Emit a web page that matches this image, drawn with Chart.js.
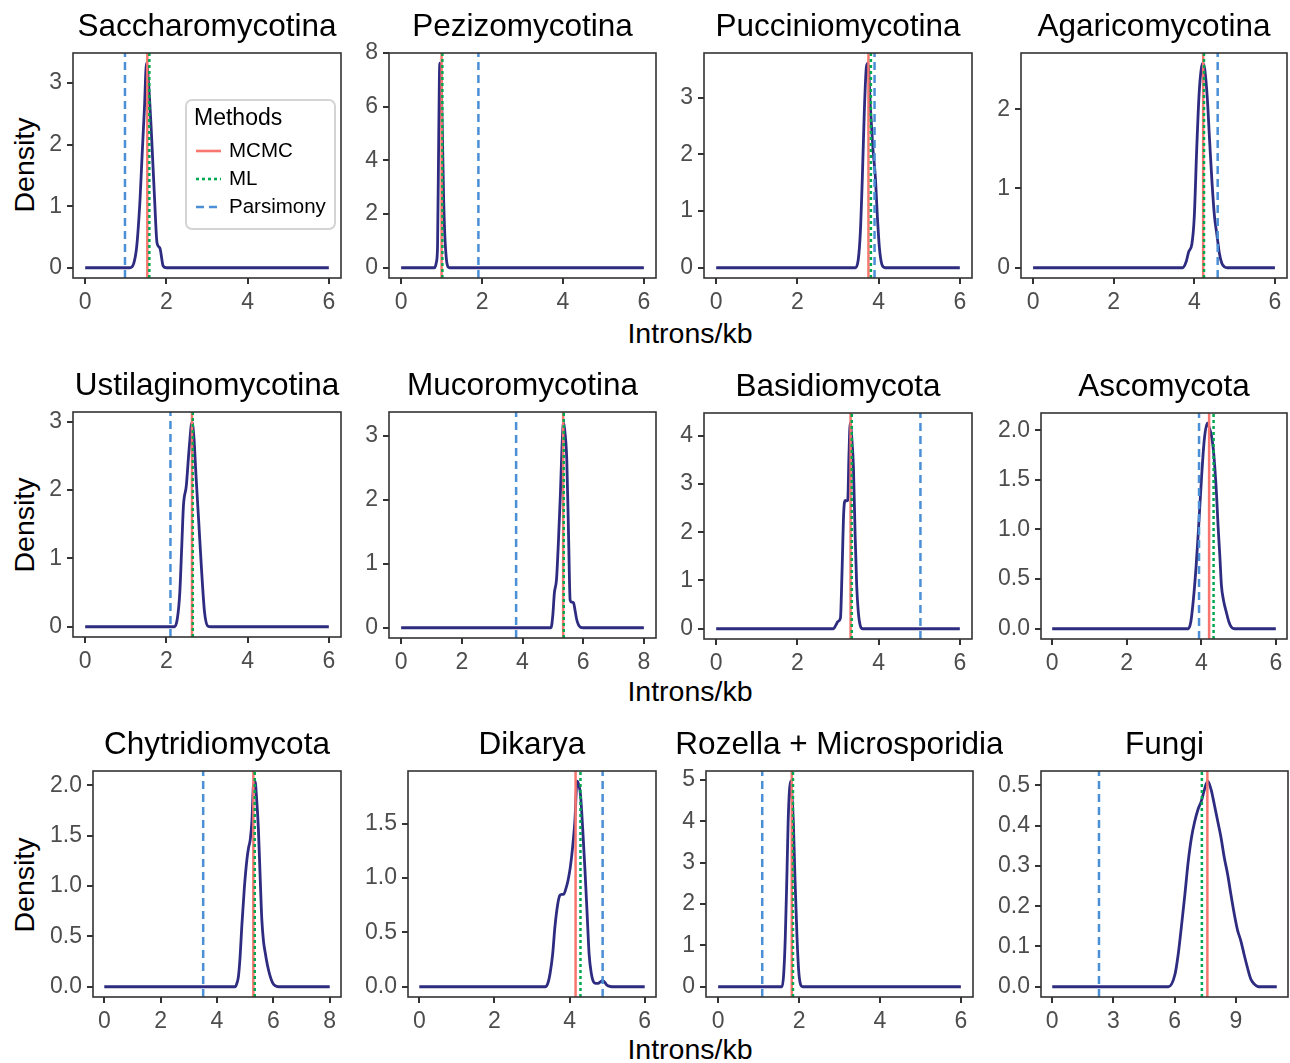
<!DOCTYPE html>
<html>
<head>
<meta charset="utf-8">
<script src="https://cdn.jsdelivr.net/npm/chart.js@4.4.1/dist/chart.umd.min.js"></script>
<style>
  body { margin: 0; background: #fff; width: 1290px; height: 1063px; position: relative; overflow: hidden;
         font-family: "Liberation Sans", Arial, Helvetica, sans-serif; }
  canvas { position: absolute; }
  .axtitle { position: absolute; font-size: 28.5px; color: #000; white-space: nowrap; line-height: 1; }
</style>
</head>
<body>
<div class="axtitle" style="left:24px;top:165px;transform:translate(-50%,-50%) rotate(-90deg)">Density</div>
<div class="axtitle" style="left:24px;top:525px;transform:translate(-50%,-50%) rotate(-90deg)">Density</div>
<div class="axtitle" style="left:24px;top:885px;transform:translate(-50%,-50%) rotate(-90deg)">Density</div>
<div class="axtitle" style="left:690px;top:333px;transform:translate(-50%,-50%)">Introns/kb</div>
<div class="axtitle" style="left:690px;top:691px;transform:translate(-50%,-50%)">Introns/kb</div>
<div class="axtitle" style="left:690px;top:1049px;transform:translate(-50%,-50%)">Introns/kb</div>

<script>
// panel titles
const titles = ['Saccharomycotina', 'Pezizomycotina', 'Pucciniomycotina', 'Agaricomycotina',
  'Ustilaginomycotina', 'Mucoromycotina', 'Basidiomycota', 'Ascomycota',
  'Chytridiomycota', 'Dikarya', 'Rozella + Microsporidia', 'Fungi'];

const methods = ['MCMC', 'ML', 'Parsimony'];

// point estimates per method (introns/kb)
const mcmc      = [1.53, 1.00, 3.75, 4.22, 2.63, 5.34, 3.31, 4.21, 5.29, 4.16, 1.82, 7.60];
const ml        = [1.58, 1.02, 3.81, 4.24, 2.65, 5.36, 3.34, 4.33, 5.34, 4.29, 1.85, 7.33];
const parsimony = [0.98, 1.91, 3.90, 4.58, 2.10, 3.79, 5.03, 3.94, 3.51, 4.88, 1.09, 2.29];

// density curves
const sacchX = [0, 1.10, 1.20, 1.27, 1.35, 1.40, 1.46, 1.51, 1.57, 1.63, 1.71, 1.77, 1.84, 1.92, 2.0, 6];
const sacchY = [0, 0, 0.08, 0.35, 1.1, 1.8, 2.6, 3.32, 2.9, 2.2, 1.1, 0.4, 0.32, 0.03, 0, 0];

const pezizX = [0, 0.82, 0.87, 0.90, 0.93, 0.955, 0.98, 1.02, 1.05, 1.08, 1.12, 1.16, 1.20, 6];
const pezizY = [0, 0, 0.2, 0.8, 5.0, 7.62, 7.3, 5.0, 2.6, 1.2, 0.3, 0.03, 0, 0];

const puccX = [0, 3.43, 3.50, 3.55, 3.60, 3.65, 3.70, 3.74, 3.80, 3.86, 3.92, 3.97, 4.02, 4.08, 4.16, 6];
const puccY = [0, 0, 0.15, 0.62, 1.6, 2.8, 3.55, 3.61, 2.8, 2.1, 1.6, 0.9, 0.35, 0.06, 0, 0];

const agarX = [0, 3.71, 3.80, 3.86, 3.94, 4.00, 4.06, 4.12, 4.17, 4.21, 4.26, 4.32, 4.38, 4.44, 4.50, 4.56, 4.62, 4.68, 4.75, 4.82, 6];
const agarY = [0, 0, 0.08, 0.2, 0.3, 0.65, 1.5, 2.2, 2.5, 2.58, 2.5, 2.16, 1.6, 1.07, 0.65, 0.42, 0.19, 0.06, 0.01, 0, 0];

const ustilX = [0, 2.20, 2.27, 2.33, 2.38, 2.42, 2.49, 2.56, 2.63, 2.68, 2.73, 2.80, 2.86, 2.94, 3.02, 3.10, 6];
const ustilY = [0, 0, 0.12, 0.5, 1.2, 1.77, 2.06, 2.6, 2.99, 2.75, 2.2, 1.5, 0.89, 0.21, 0.01, 0, 0];

const mucorX = [0, 4.94, 5.00, 5.05, 5.12, 5.18, 5.25, 5.30, 5.35, 5.40, 5.46, 5.52, 5.57, 5.62, 5.68, 5.74, 5.79, 5.85, 5.92, 6.0, 8];
const mucorY = [0, 0, 0.2, 0.54, 0.75, 1.3, 2.1, 2.8, 3.21, 3.05, 2.62, 1.4, 0.43, 0.4, 0.39, 0.25, 0.12, 0.04, 0.005, 0, 0];

const basidX = [0, 2.89, 2.95, 3.00, 3.06, 3.10, 3.14, 3.18, 3.21, 3.24, 3.27, 3.30, 3.34, 3.38, 3.42, 3.46, 3.50, 3.55, 3.61, 6];
const basidY = [0, 0, 0.08, 0.15, 0.22, 1.2, 2.4, 2.66, 2.65, 2.66, 3.6, 4.26, 3.95, 3.35, 2.0, 0.9, 0.35, 0.06, 0, 0];

const ascoX = [0, 3.65, 3.72, 3.79, 3.86, 3.92, 4.01, 4.08, 4.16, 4.22, 4.27, 4.32, 4.36, 4.41, 4.45, 4.50, 4.54, 4.60, 4.67, 4.74, 4.80, 4.89, 6];
const ascoY = [0, 0, 0.07, 0.3, 0.62, 0.97, 1.54, 1.9, 2.07, 2.02, 1.95, 1.82, 1.64, 1.35, 1.04, 0.72, 0.44, 0.28, 0.17, 0.07, 0.02, 0, 0];

const chytX = [0, 4.65, 4.70, 4.76, 4.82, 4.88, 4.97, 5.06, 5.12, 5.18, 5.24, 5.29, 5.35, 5.41, 5.47, 5.53, 5.59, 5.65, 5.71, 5.80, 5.88, 5.97, 6.06, 6.18, 8];
const chytY = [0, 0, 0.03, 0.1, 0.3, 0.6, 0.98, 1.26, 1.38, 1.46, 1.65, 1.99, 2.04, 1.85, 1.56, 1.1, 0.67, 0.45, 0.34, 0.2, 0.11, 0.04, 0.01, 0, 0];

const dikX = [0, 3.35, 3.42, 3.48, 3.55, 3.61, 3.68, 3.74, 3.79, 3.84, 3.90, 3.96, 4.02, 4.08, 4.14, 4.20, 4.25, 4.29, 4.35, 4.41, 4.47, 4.52, 4.58, 4.63, 4.70, 4.76, 4.82, 4.88, 4.94, 4.99, 5.05, 5.12, 6];
const dikY = [0, 0, 0.03, 0.12, 0.3, 0.55, 0.75, 0.84, 0.85, 0.85, 0.9, 0.98, 1.1, 1.28, 1.52, 1.89, 1.85, 1.77, 1.45, 1.07, 0.65, 0.3, 0.12, 0.05, 0.03, 0.03, 0.045, 0.055, 0.04, 0.015, 0.005, 0, 0];

const rozX = [0, 1.58, 1.62, 1.66, 1.70, 1.73, 1.76, 1.79, 1.82, 1.86, 1.90, 1.95, 1.99, 2.03, 2.09, 6];
const rozY = [0, 0, 0.3, 1.19, 2.7, 3.96, 4.7, 4.97, 4.7, 3.96, 2.6, 1.19, 0.4, 0.08, 0, 0];

const fungiX = [0, 5.69, 6.01, 6.17, 6.33, 6.50, 6.66, 6.82, 6.98, 7.14, 7.30, 7.46, 7.62, 7.78, 7.95, 8.11, 8.27, 8.43, 8.59, 8.75, 8.92, 9.08, 9.24, 9.40, 9.56, 9.72, 9.89, 10.05, 10.2, 11];
const fungiY = [0, 0, 0.03, 0.08, 0.15, 0.23, 0.31, 0.37, 0.41, 0.44, 0.46, 0.49, 0.51, 0.49, 0.45, 0.41, 0.37, 0.32, 0.28, 0.23, 0.18, 0.14, 0.114, 0.08, 0.048, 0.02, 0.007, 0.001, 0, 0];

const curveX = [sacchX, pezizX, puccX, agarX, ustilX, mucorX, basidX, ascoX, chytX, dikX, rozX, fungiX];
const curveY = [sacchY, pezizY, puccY, agarY, ustilY, mucorY, basidY, ascoY, chytY, dikY, rozY, fungiY];

// tick labels
const xTicks = [[0,2,4,6],[0,2,4,6],[0,2,4,6],[0,2,4,6],
  [0,2,4,6],[0,2,4,6,8],[0,2,4,6],[0,2,4,6],
  [0,2,4,6,8],[0,2,4,6],[0,2,4,6],[0,3,6,9]];
const yTicks = [[0,1,2,3],[0,2,4,6,8],[0,1,2,3],[0,1,2],
  [0,1,2,3],[0,1,2,3],[0,1,2,3,4],[0,0.5,1,1.5,2],
  [0,0.5,1,1.5,2],[0,0.5,1,1.5],[0,1,2,3,4,5],[0,0.1,0.2,0.3,0.4,0.5]];
const yDecimals = [0,0,0,0,0,0,0,1,1,1,0,1];

// ---- layout (page px): plot frame left, top, right, bottom ----
const frames = [
  [73, 53, 341, 278], [389, 53, 656, 278], [704, 53, 972, 278], [1021, 53, 1287, 278],
  [73, 412, 341, 637], [389, 412, 656, 638], [704, 413, 972, 639], [1041, 413, 1287, 639],
  [93, 771, 341, 997], [408, 771, 656, 997], [706, 771, 973, 997], [1041, 771, 1288, 997]
];
const PAD_L = 70, PAD_T = 60, PAD_R = 30, PAD_B = 45;

const FONT = '"Liberation Sans", Arial, Helvetica, sans-serif';
const curveColor = '#2E2C80';
const methodStyle = [
  { color: '#F8766D', dash: [] },
  { color: '#00A94F', dash: [3, 3] },
  { color: '#4B8FD6', dash: [8, 5] }
];

Chart.defaults.font.family = FONT;

const framePlugin = {
  id: 'panelFrame',
  afterDraw(chart, args, opts) {
    const ctx = chart.ctx, a = chart.chartArea;
    ctx.save();
    ctx.strokeStyle = '#333333';
    ctx.lineWidth = 1.6;
    ctx.strokeRect(a.left, a.top, a.right - a.left, a.bottom - a.top);
    ctx.fillStyle = '#000';
    ctx.font = '31.5px ' + FONT;
    ctx.textAlign = 'center';
    ctx.textBaseline = 'alphabetic';
    ctx.fillText(opts.title, (a.left + a.right) / 2, a.top - 17);
    ctx.restore();
  }
};

const legendPlugin = {
  id: 'methodsLegend',
  afterDraw(chart, args, opts) {
    if (!opts.show) return;
    const ctx = chart.ctx, a = chart.chartArea;
    const x0 = a.left + 113, y0 = a.top + 47, w = 149, h = 129, r = 6;
    ctx.save();
    ctx.beginPath();
    ctx.moveTo(x0 + r, y0);
    ctx.arcTo(x0 + w, y0, x0 + w, y0 + h, r);
    ctx.arcTo(x0 + w, y0 + h, x0, y0 + h, r);
    ctx.arcTo(x0, y0 + h, x0, y0, r);
    ctx.arcTo(x0, y0, x0 + w, y0, r);
    ctx.closePath();
    ctx.fillStyle = '#fff';
    ctx.fill();
    ctx.strokeStyle = '#D4D4D4';
    ctx.lineWidth = 2;
    ctx.stroke();

    ctx.fillStyle = '#000';
    ctx.textAlign = 'left';
    ctx.textBaseline = 'middle';
    ctx.font = '23px ' + FONT;
    ctx.fillText('Methods', x0 + 8, y0 + 19);
    ctx.font = '20.5px ' + FONT;
    methods.forEach((name, i) => {
      const yy = y0 + 51 + i * 28;
      ctx.beginPath();
      ctx.setLineDash(methodStyle[i].dash);
      ctx.strokeStyle = methodStyle[i].color;
      ctx.lineWidth = 2.6;
      ctx.moveTo(x0 + 10, yy);
      ctx.lineTo(x0 + 35, yy);
      ctx.stroke();
      ctx.setLineDash([]);
      ctx.fillText(name, x0 + 43, yy);
    });
    ctx.restore();
  }
};

titles.forEach((title, i) => {
  const [L, T, R, B] = frames[i];
  const cv = document.createElement('canvas');
  const w = (R - L) + PAD_L + PAD_R, h = (B - T) + PAD_T + PAD_B;
  cv.width = w; cv.height = h;
  cv.style.left = (L - PAD_L) + 'px';
  cv.style.top = (T - PAD_T) + 'px';
  cv.style.width = w + 'px';
  cv.style.height = h + 'px';
  document.body.appendChild(cv);

  const xs = curveX[i], ys = curveY[i];
  const xMax = xs[xs.length - 1];
  const peak = Math.max(...ys);
  const yLo = -0.05 * peak, yHi = 1.05 * peak;

  const vals = [mcmc[i], ml[i], parsimony[i]];
  const vlineSets = vals.map((v, k) => ({
    data: [{ x: v, y: yLo }, { x: v, y: yHi }],
    borderColor: methodStyle[k].color,
    borderDash: methodStyle[k].dash,
    borderWidth: 2.5,
    pointRadius: 0,
    fill: false
  }));
  // draw order: later in list = underneath; put ML dotted above MCMC solid
  const datasets = [vlineSets[1], vlineSets[0], vlineSets[2], {
    data: xs.map((x, k) => ({ x: x, y: ys[k] })),
    borderColor: curveColor,
    borderWidth: 2.8,
    pointRadius: 0,
    cubicInterpolationMode: 'monotone',
    fill: false
  }];

  new Chart(cv, {
    type: 'line',
    data: { datasets: datasets },
    options: {
      responsive: false,
      animation: false,
      events: [],
      layout: { padding: { left: 0, top: PAD_T, right: PAD_R, bottom: 0 } },
      plugins: {
        legend: { display: false },
        tooltip: { enabled: false },
        panelFrame: { title: title },
        methodsLegend: { show: i === 0 }
      },
      scales: {
        x: {
          type: 'linear',
          min: -0.05 * xMax,
          max: 1.05 * xMax,
          afterBuildTicks: (s) => { s.ticks = xTicks[i].map(v => ({ value: v })); },
          afterFit: (s) => { s.height = PAD_B; },
          ticks: { color: '#4D4D4D', font: { size: 23 }, padding: 5, maxRotation: 0,
                   callback: (v) => String(v) },
          grid: { drawOnChartArea: false, drawTicks: true, tickLength: 6, color: '#333333', lineWidth: 2 },
          border: { display: false }
        },
        y: {
          type: 'linear',
          min: yLo,
          max: yHi,
          afterBuildTicks: (s) => { s.ticks = yTicks[i].map(v => ({ value: v })); },
          afterFit: (s) => { s.width = PAD_L; },
          ticks: { color: '#4D4D4D', font: { size: 23 }, padding: 5,
                   callback: (v) => Number(v).toFixed(yDecimals[i]) },
          grid: { drawOnChartArea: false, drawTicks: true, tickLength: 6, color: '#333333', lineWidth: 2 },
          border: { display: false }
        }
      }
    },
    plugins: [framePlugin, legendPlugin]
  });
});
</script>
</body>
</html>
